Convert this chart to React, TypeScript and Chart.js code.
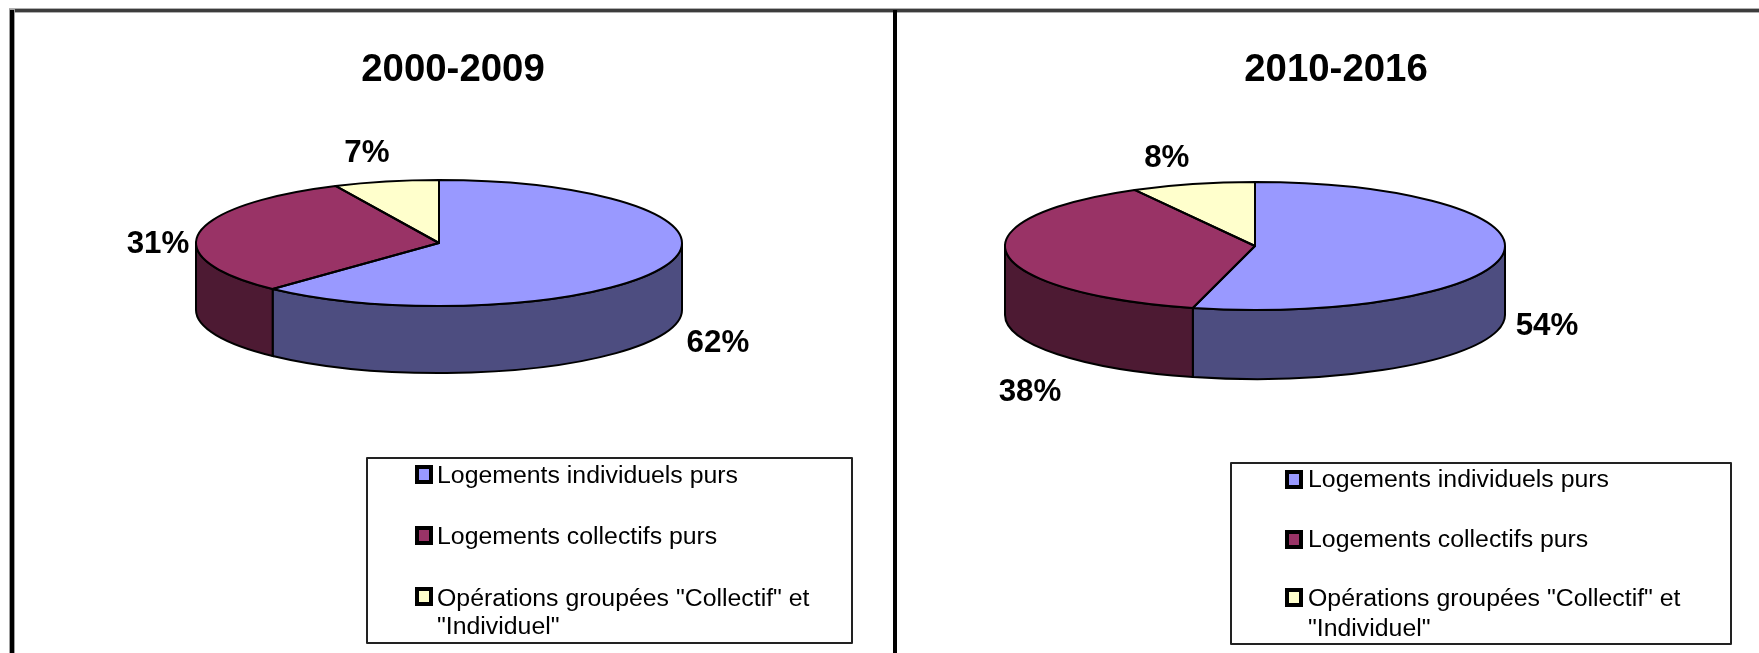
import React, { useEffect, useRef } from "react";
import { Chart, registerables } from "chart.js";

Chart.register(...registerables);

// Housing-start shares per period, in percent
const categories = [
  "Logements individuels purs",
  "Logements collectifs purs",
  'Opérations groupées "Collectif" et "Individuel"',
];
const legendLines = [
  ["Logements individuels purs"],
  ["Logements collectifs purs"],
  ['Opérations groupées "Collectif" et', '"Individuel"'],
];
const sharesFirstPeriod = [62, 31, 7];
const sharesSecondPeriod = [54, 38, 8];

const topColors = ["#9999FF", "#993366", "#FFFFCC"];
const wallColors = ["#4D4D80", "#4D1A33", "#80806A"];
const FONT = '"Liberation Sans", Arial, sans-serif';
const H = 653;

type Panel = {
  title: string;
  values: number[];
  left: number;
  width: number;
  titleX: number;
  cx: number;
  cy: number;
  rx: number;
  ry: number;
  depth: number;
  labelNudges: number[][];
  legendBox: number[];
  markerX: number;
  textX: number;
  markerY: number[];
  textY: number[];
  drawLeftEdge: boolean;
  dividerX: number | null;
};

const panels: Panel[] = [
  {
    title: "2000-2009",
    values: sharesFirstPeriod,
    left: 0,
    width: 897,
    titleX: 453,
    cx: 439,
    cy: 243,
    rx: 243,
    ry: 63,
    depth: 67,
    labelNudges: [[53, 77], [-41, 11], [-19, -28]],
    legendBox: [367, 458, 852, 643],
    markerX: 415,
    textX: 437,
    markerY: [474, 535, 596],
    textY: [477, 538, 600, 628],
    drawLeftEdge: true,
    dividerX: 893,
  },
  {
    title: "2010-2016",
    values: sharesSecondPeriod,
    left: 897,
    width: 862,
    titleX: 1336,
    cx: 1255,
    cy: 246,
    rx: 250,
    ry: 64,
    depth: 69,
    labelNudges: [[44, 72], [23, 138], [-26, -26]],
    legendBox: [1231, 463, 1731, 644],
    markerX: 1285,
    textX: 1308,
    markerY: [479, 539, 597],
    textY: [481, 541, 600, 630],
    drawLeftEdge: false,
    dividerX: null,
  },
];

// Text runs a little wider than the plain face, so it is stretched along x
function stretchedText(
  ctx: CanvasRenderingContext2D,
  text: string,
  x: number,
  y: number,
  font: string,
  stretch: number,
  align: CanvasTextAlign,
) {
  ctx.save();
  ctx.translate(x, y);
  ctx.scale(stretch, 1);
  ctx.font = font;
  ctx.fillStyle = "#000";
  ctx.textAlign = align;
  ctx.textBaseline = "middle";
  ctx.fillText(text, 0, 0);
  ctx.restore();
}

const ellipsePoint = (p: Panel, a: number) => ({
  x: p.cx + p.rx * Math.cos(a),
  y: p.cy + p.ry * Math.sin(a),
});

function pieDecor(panel: Panel) {
  return {
    id: "pieDecor",
    beforeDraw(chart: Chart) {
      const ctx = chart.ctx;
      ctx.save();
      ctx.translate(-panel.left, 0);
      // Outer frame and the divider between the two periods
      ctx.fillStyle = "#b0b0b0";
      ctx.fillRect(9, 8, 1750, 5);
      ctx.fillStyle = "#3c3c3c";
      ctx.fillRect(9, 9, 1750, 3);
      if (panel.drawLeftEdge) {
        ctx.fillStyle = "#a0a0a0";
        ctx.fillRect(9, 9, 6, H);
        ctx.fillStyle = "#000";
        ctx.fillRect(10, 10, 4, H);
      }
      if (panel.dividerX !== null) {
        ctx.fillStyle = "#000";
        ctx.fillRect(panel.dividerX, 10, 4, H);
      }
      ctx.restore();
    },
    beforeDatasetsDraw(chart: Chart) {
      const ctx = chart.ctx;
      const arcs = chart.getDatasetMeta(0).data as any[];
      ctx.save();
      ctx.translate(-panel.left, 0);
      ctx.lineWidth = 2;
      ctx.strokeStyle = "#000";
      // Walls of the cylinder: only the front half, from 0 to PI on the ellipse
      arcs.forEach((arc, i) => {
        const a1 = Math.max(arc.startAngle, 0);
        const a2 = Math.min(arc.endAngle, Math.PI);
        if (a2 <= a1) return;
        ctx.beginPath();
        ctx.ellipse(panel.cx, panel.cy, panel.rx, panel.ry, 0, a1, a2);
        ctx.ellipse(panel.cx, panel.cy + panel.depth, panel.rx, panel.ry, 0, a2, a1, true);
        ctx.closePath();
        ctx.fillStyle = wallColors[i];
        ctx.fill();
        ctx.stroke();
      });
      ctx.restore();
      // The top face is the library's own arcs, flattened into an ellipse
      ctx.save();
      const cx = panel.cx - panel.left;
      const R = arcs[0].outerRadius;
      ctx.translate(cx, panel.cy);
      ctx.scale(panel.rx / R, panel.ry / R);
      ctx.translate(-cx, -panel.cy);
    },
    afterDatasetsDraw(chart: Chart) {
      const ctx = chart.ctx;
      ctx.restore();
      const arcs = chart.getDatasetMeta(0).data as any[];
      ctx.save();
      ctx.translate(-panel.left, 0);
      ctx.lineWidth = 2;
      ctx.strokeStyle = "#000";
      ctx.lineJoin = "round";
      arcs.forEach((arc) => {
        ctx.beginPath();
        ctx.moveTo(panel.cx, panel.cy);
        ctx.ellipse(panel.cx, panel.cy, panel.rx, panel.ry, 0, arc.startAngle, arc.endAngle);
        ctx.closePath();
        ctx.stroke();
      });

      // Percent labels around the pie
      panel.values.forEach((v, i) => {
        const arc = arcs[i];
        const mid = (arc.startAngle + arc.endAngle) / 2;
        const pt = ellipsePoint(panel, mid);
        const [dx, dy] = panel.labelNudges[i];
        stretchedText(ctx, `${v}%`, pt.x + dx, pt.y + dy, `bold 31px ${FONT}`, 1.01, "center");
      });

      stretchedText(ctx, panel.title, panel.titleX, 71, `bold 38px ${FONT}`, 1.01, "center");

      // Legend box
      const [x1, y1, x2, y2] = panel.legendBox;
      ctx.lineWidth = 2;
      ctx.strokeStyle = "#222";
      ctx.strokeRect(x1, y1, x2 - x1, y2 - y1);
      let row = 0;
      legendLines.forEach((lines, i) => {
        const y = panel.markerY[i];
        ctx.fillStyle = "#000";
        ctx.fillRect(panel.markerX, y - 9, 18, 19);
        ctx.fillStyle = topColors[i];
        ctx.fillRect(panel.markerX + 4, y - 5, 10, 11);
        lines.forEach((line) => {
          stretchedText(ctx, line, panel.textX, panel.textY[row], `23px ${FONT}`, 1.08, "left");
          row += 1;
        });
      });
      ctx.restore();
    },
  };
}

function PiePanel({ panel }: { panel: Panel }) {
  const ref = useRef<HTMLCanvasElement>(null);
  useEffect(() => {
    const chart = new Chart(ref.current!, {
      type: "pie",
      data: {
        labels: categories,
        datasets: [
          {
            data: panel.values,
            backgroundColor: topColors,
            borderWidth: 0,
            clip: false as any,
          },
        ],
      },
      options: {
        animation: false,
        responsive: false,
        layout: {
          padding: {
            left: panel.cx - panel.left - panel.rx,
            right: panel.left + panel.width - panel.cx - panel.rx,
            top: panel.cy - panel.ry,
            bottom: H - panel.cy - panel.ry,
          },
        },
        plugins: { legend: { display: false }, title: { display: false }, tooltip: { enabled: false } },
      },
      plugins: [pieDecor(panel)],
    });
    return () => chart.destroy();
  }, [panel]);
  return (
    <canvas
      ref={ref}
      width={panel.width}
      height={H}
      style={{ position: "absolute", left: panel.left, top: 0, width: panel.width, height: H }}
    />
  );
}

export default function App() {
  return (
    <div style={{ position: "absolute", left: 0, top: 0, width: 1759, height: H, background: "#fff", overflow: "hidden" }}>
      {panels.map((p) => (
        <PiePanel key={p.title} panel={p} />
      ))}
    </div>
  );
}
